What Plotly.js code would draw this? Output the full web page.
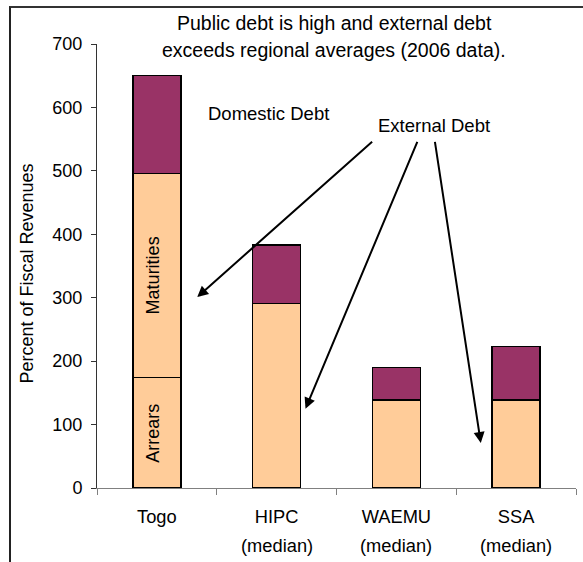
<!DOCTYPE html>
<html>
<head>
<meta charset="utf-8">
<script src="https://cdn.plot.ly/plotly-3.0.1.min.js"></script>
<style>
  html, body { margin:0; padding:0; background:#fff; }
  #wrap { position:relative; width:583px; height:562px; }
  #chart { position:absolute; left:0; top:0; width:583px; height:562px; }
  #frame { position:absolute; left:9px; top:6px; width:580px; height:560px;
           border-top:2px solid #333; border-left:2px solid #222; pointer-events:none; }
</style>
</head>
<body>
<div id="wrap"><div id="chart"></div><div id="frame"></div></div>
<script>
// ---- data ----
const categories = ['Togo', 'HIPC', 'WAEMU', 'SSA'];
const subLabels = ['', '(median)', '(median)', '(median)'];
const externalArrears = [174, null, null, null];
const externalOther = [322, 291, 139, 139];
const domesticDebt = [154, 92, 51, 84];
const segmentLabels = ['Arrears', 'Maturities'];
const titleLines = ['Public debt is high and external debt', 'exceeds regional averages (2006 data).'];
const yTitle = 'Percent of Fiscal Revenues';

const FONT = 'Liberation Sans, Arial, sans-serif';
const peach = '#FFCC99', plum = '#993366';
const barLine = {color: '#000', width: 1.5};

const traces = [
  {type:'bar', x: categories, y: externalArrears, name:'Arrears',
   marker:{color: peach, line: barLine}, hoverinfo:'y'},
  {type:'bar', x: categories, y: externalOther, name:'External Debt',
   marker:{color: peach, line: barLine}, hoverinfo:'y'},
  {type:'bar', x: categories, y: domesticDebt, name:'Domestic Debt',
   marker:{color: plum, line: barLine}, hoverinfo:'y'}
];

const annotations = [];
// title lines
titleLines.forEach((t, i) => annotations.push({
  text: t, xref:'paper', yref:'paper', x: (334 - 97) / 478, y: 1 + (21 - i*27) / 444,
  xanchor:'center', yanchor:'middle', showarrow:false, font:{size:19.5}
}));
// y title
annotations.push({text: yTitle, xref:'paper', yref:'paper', x: -0.147, y: 0.482,
  textangle:-90, xanchor:'center', yanchor:'middle', showarrow:false, font:{size:18}});
// second line of category labels
subLabels.forEach((s, i) => { if (s) annotations.push({
  text: s, xref:'x', yref:'paper', x: i, y: -57/444, xanchor:'center', yanchor:'middle',
  showarrow:false, font:{size:18.3}}); });
// labels inside Togo bar
annotations.push({text: segmentLabels[0], xref:'x', yref:'y', x: 0, y: externalArrears[0]/2,
  textangle:-90, showarrow:false, xshift:-4, font:{size:18}});
annotations.push({text: segmentLabels[1], xref:'x', yref:'y', x: 0, y: externalArrears[0] + externalOther[0]/2,
  textangle:-90, showarrow:false, xshift:-4, font:{size:18}});
// callouts
annotations.push({text:'Domestic Debt', xref:'x', yref:'y', x: 0.93, y: 591, showarrow:false, font:{size:18.5}});
annotations.push({text:'External Debt', xref:'x', yref:'y', x: 2.31, y: 572, showarrow:false, font:{size:18.5}});
const arrowTails = [[1.81, 548], [2.18, 548], [2.32, 548]];
const arrowHeads = [[0.337, 301], [1.241, 125], [2.705, 71]];
arrowHeads.forEach((h, i) => annotations.push({
  text:'', xref:'x', yref:'y', x: h[0], y: h[1], axref:'x', ayref:'y',
  ax: arrowTails[i][0], ay: arrowTails[i][1], showarrow:true,
  arrowhead:2, arrowsize:1.1, arrowwidth:2, arrowcolor:'#000', standoff:0, startstandoff:0
}));

const layout = {
  width:583, height:562,
  margin:{l:97, r:7, t:44, b:74, pad:0},
  barmode:'stack', bargap:0.6, showlegend:false,
  paper_bgcolor:'#fff', plot_bgcolor:'#fff',
  font:{family: FONT, size:18, color:'#000'},
  xaxis:{type:'category', range:[-0.5, 3.5], showline:true, linecolor:'#808080', linewidth:1,
         ticks:'outside', tickson:'boundaries', ticklen:6, tickcolor:'#808080', tickwidth:1,
         ticklabelstandoff:12,
         showgrid:false, zeroline:false, tickfont:{size:18.3}, fixedrange:true},
  yaxis:{range:[0, 700], dtick:100, tick0:0, showline:true, linecolor:'#333', linewidth:1,
         ticks:'outside', ticklen:5, tickcolor:'#333', showgrid:false, zeroline:false,
         ticklabelstandoff:5,
         tickfont:{size:18}, fixedrange:true},
  annotations: annotations
};

Plotly.newPlot('chart', traces, layout, {displayModeBar:false, staticPlot:true});
</script>
</body>
</html>
